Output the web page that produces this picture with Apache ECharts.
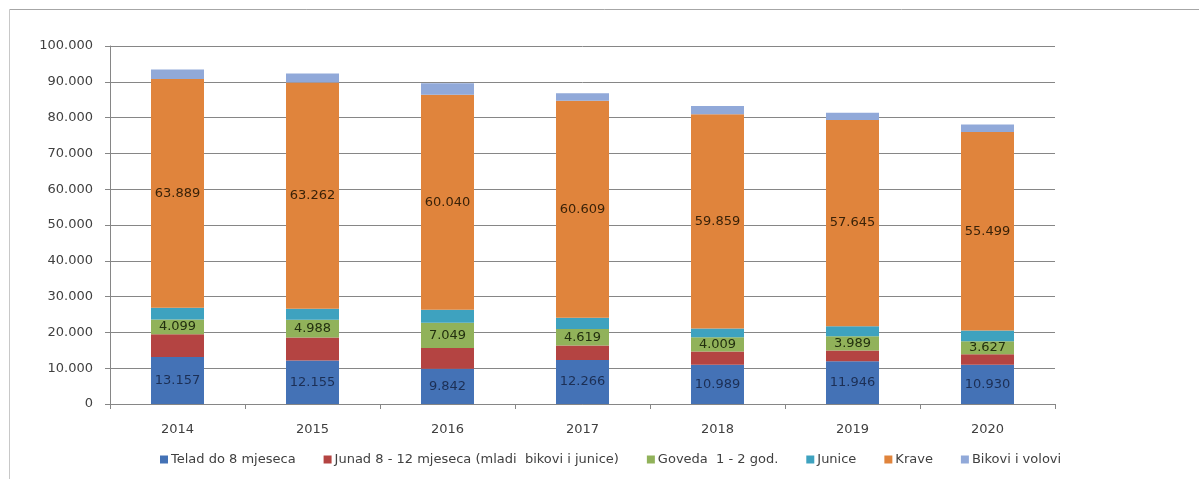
<!DOCTYPE html>
<html>
<head>
<meta charset="utf-8">
<script src="https://cdn.jsdelivr.net/npm/echarts@6/dist/echarts.min.js"></script>
<style>
  html, body { margin: 0; padding: 0; background: #fff; }
  #chart { width: 1199px; height: 479px; }
</style>
</head>
<body>
<div id="chart"></div>
<script>
  var years = ['2014', '2015', '2016', '2017', '2018', '2019', '2020']
  var telad = [13157, 12155, 9842, 12266, 10989, 11946, 10930]
  var junad = [6360, 6400, 5800, 4060, 3660, 3000, 3000]
  var goveda = [4099, 4988, 7049, 4619, 4009, 3989, 3627]
  var junice = [3255, 3030, 3630, 3125, 2430, 2775, 2945]
  var krave = [63889, 63262, 60040, 60609, 59859, 57645, 55499]
  var bikovi = [2700, 2500, 3200, 2100, 2300, 2000, 2100]

  var seriesNames = ['Telad do 8 mjeseca', 'Junad 8 - 12 mjeseca (mladi  bikovi i junice)', 'Goveda  1 - 2 god.', 'Junice', 'Krave', 'Bikovi i volovi']
  var seriesData = [telad, junad, goveda, junice, krave, bikovi]
  var colors = ['#4472b6', '#b44442', '#91b25a', '#3ea2bf', '#e0843c', '#91a9d9']
  // only these get value labels, with their text colour
  var labelColors = ['#1c2f55', null, '#23300f', null, '#3a2208', null]

  var font = 'DejaVu Sans'

  function fmt (v) {
    // 63889 -> 63.889
    return String(v).replace(/\B(?=(\d{3})+(?!\d))/g, '.')
  }

  var series = []
  for (var i = 0; i < seriesNames.length; i++) {
    series.push({
      name: seriesNames[i],
      type: 'bar',
      stack: 'total',
      barWidth: 53,
      itemStyle: { color: colors[i] },
      label: {
        show: !!labelColors[i],
        position: 'inside',
        color: labelColors[i] || '#000',
        fontFamily: font,
        fontSize: 13,
        formatter: function (p) { return fmt(p.value) }
      },
      data: seriesData[i]
    })
  }

  var chart = echarts.init(document.getElementById('chart'))
  chart.setOption({
    animation: false,
    color: colors,
    grid: {
      left: 110,
      right: 144,
      top: 46,
      bottom: 75,
      containLabel: false,
      outerBoundsMode: 'none'
    },
    legend: {
      left: 155,
      top: 448,
      icon: 'rect',
      itemWidth: 8,
      itemHeight: 8,
      itemGap: 28,
      textStyle: { color: '#404040', fontFamily: font, fontSize: 13, padding: [0, 0, 0, -2] },
      data: seriesNames
    },
    xAxis: {
      type: 'category',
      data: years,
      axisLine: { lineStyle: { color: '#868686' } },
      axisTick: { show: true, length: 5, lineStyle: { color: '#868686' } },
      axisLabel: { color: '#404040', fontFamily: font, fontSize: 13, margin: 19 }
    },
    yAxis: {
      type: 'value',
      min: 0,
      max: 100000,
      interval: 10000,
      axisLine: { show: true, lineStyle: { color: '#868686' } },
      axisTick: { show: true, length: 5, lineStyle: { color: '#868686' } },
      axisLabel: { color: '#404040', fontFamily: font, fontSize: 13, margin: 17, formatter: fmt },
      splitLine: { lineStyle: { color: '#868686' } }
    },
    graphic: [
      { type: 'line', shape: { x1: 9.5, y1: 9.5, x2: 1199, y2: 9.5 }, style: { stroke: '#a6a6a6', lineWidth: 1 } },
      { type: 'line', shape: { x1: 9.5, y1: 9.5, x2: 9.5, y2: 479 }, style: { stroke: '#c8c8c8', lineWidth: 1 } }
    ],
    series: series
  })
</script>
</body>
</html>
